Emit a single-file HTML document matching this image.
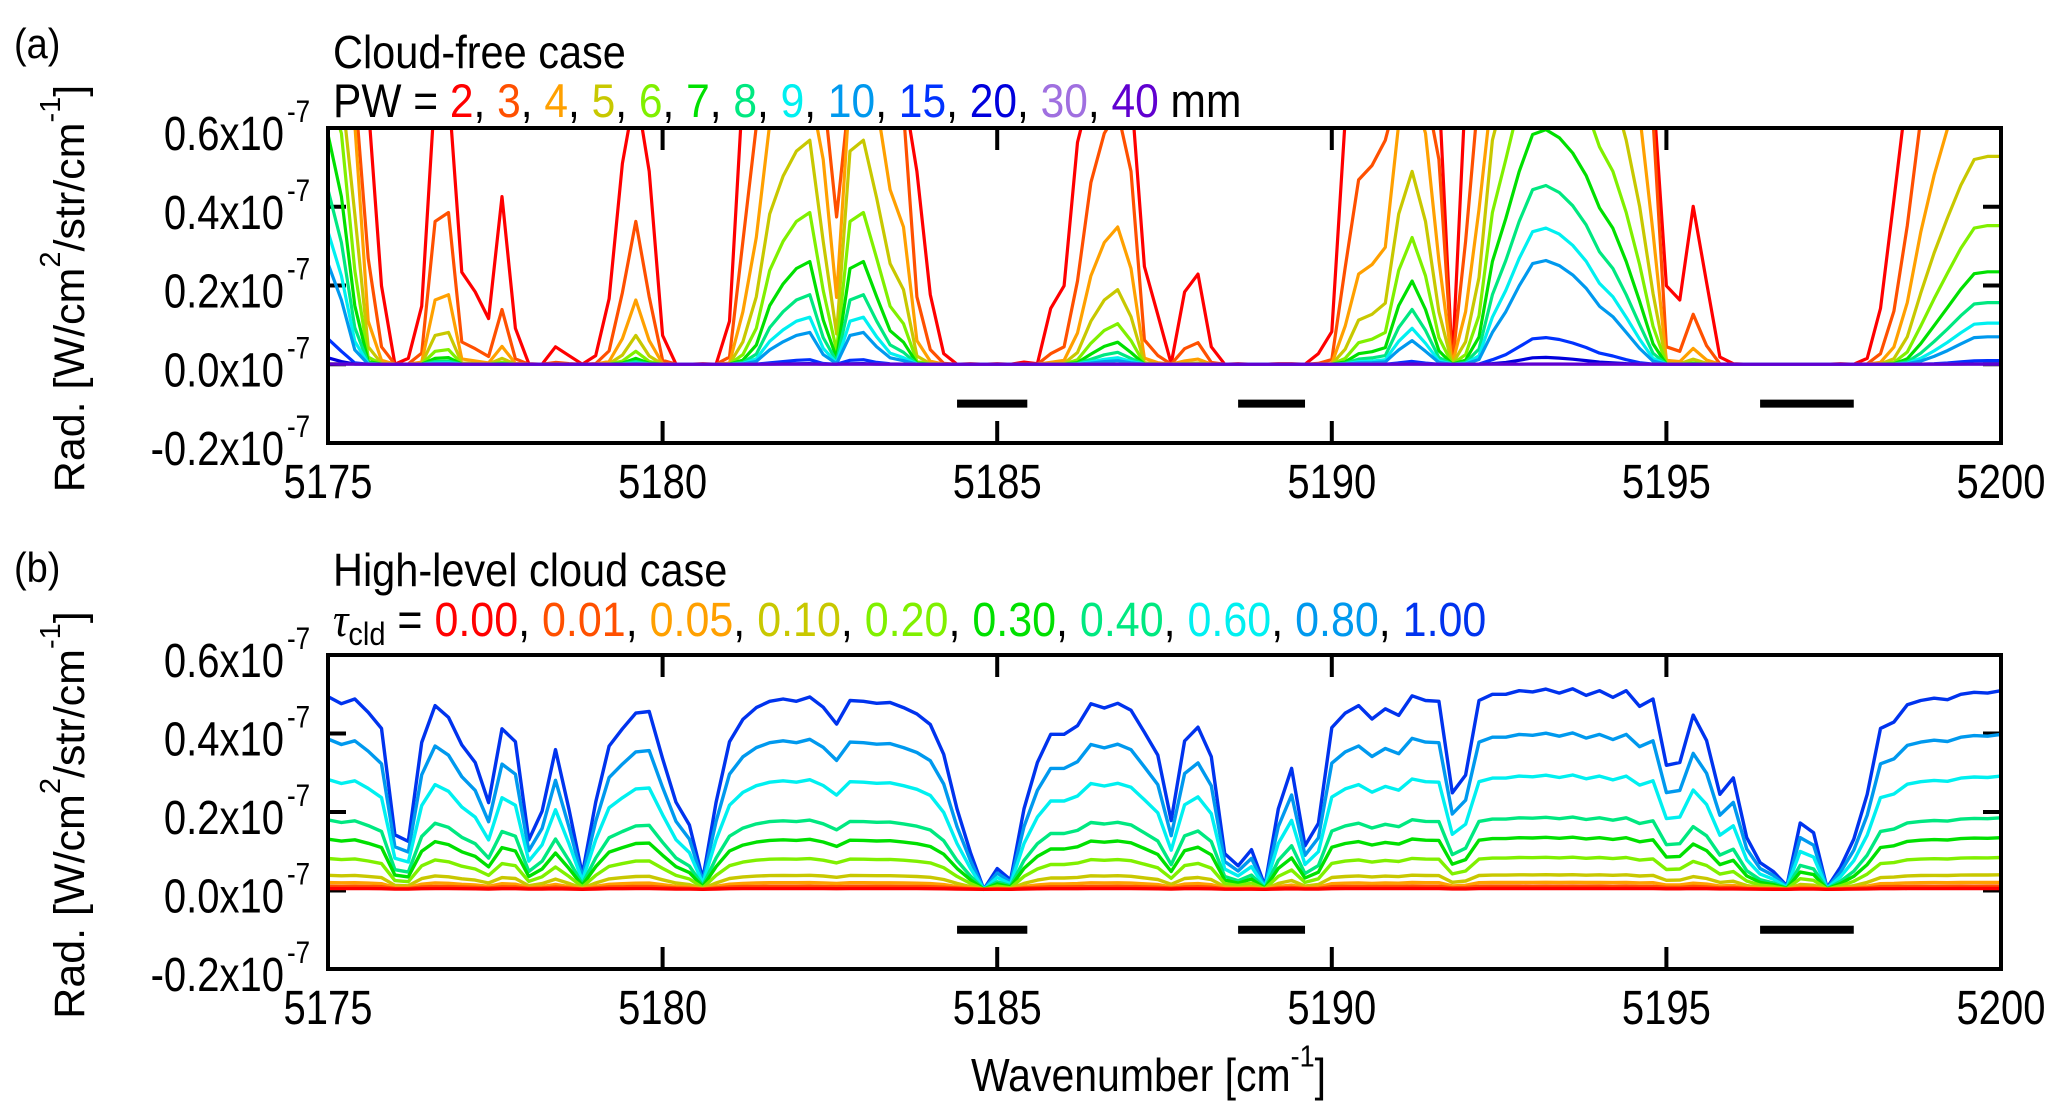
<!DOCTYPE html>
<html><head><meta charset="utf-8">
<style>
html,body{margin:0;padding:0;background:#fff;}
svg{display:block;font-family:"Liberation Sans",Arial,sans-serif;}
</style></head>
<body>
<svg id="fig" width="2067" height="1120" viewBox="0 0 2067 1120" xmlns="http://www.w3.org/2000/svg">
<defs>
<clipPath id="clipA"><rect x="328" y="128" width="1673" height="315"/></clipPath>
<clipPath id="clipB"><rect x="328" y="655" width="1673" height="314"/></clipPath>
</defs>
<rect width="2067" height="1120" fill="#fff"/>
<text x="14" y="58" font-size="38" transform="translate(0,-6) scale(1,1.1)">(a)</text>
<text font-size="41.5" transform="translate(333,68) scale(1,1.12)">Cloud-free case</text>
<text font-size="42.5" transform="translate(333,117) scale(1,1.12)">PW = <tspan fill="#ff0000">2</tspan>, <tspan fill="#ff5000">3</tspan>, <tspan fill="#ffa000">4</tspan>, <tspan fill="#c8c800">5</tspan>, <tspan fill="#80f000">6</tspan>, <tspan fill="#00e000">7</tspan>, <tspan fill="#00e880">8</tspan>, <tspan fill="#00f0f0">9</tspan>, <tspan fill="#0099ee">10</tspan>, <tspan fill="#0033ff">15</tspan>, <tspan fill="#0000dd">20</tspan>, <tspan fill="#a070e0">30</tspan>, <tspan fill="#6000d0">40</tspan> mm</text>
<text font-size="38" transform="translate(14,582) scale(1,1.1)">(b)</text>
<text font-size="41.5" transform="translate(333,586) scale(1,1.12)">High-level cloud case</text>
<text font-size="43" transform="translate(333,636) scale(1,1.12)"><tspan font-family="Liberation Serif" font-style="italic">τ</tspan><tspan font-size="29" dy="8">cld</tspan><tspan dy="-8"> = </tspan><tspan fill="#ff0000">0.00</tspan>, <tspan fill="#ff5000">0.01</tspan>, <tspan fill="#ffa000">0.05</tspan>, <tspan fill="#c8c800">0.10</tspan>, <tspan fill="#80f000">0.20</tspan>, <tspan fill="#00e000">0.30</tspan>, <tspan fill="#00e880">0.40</tspan>, <tspan fill="#00f0f0">0.60</tspan>, <tspan fill="#0099ee">0.80</tspan>, <tspan fill="#0033ee">1.00</tspan></text>
<text font-size="41" transform="translate(971,1091) scale(1,1.12)">Wavenumber [cm<tspan font-size="27" dy="-22">-1</tspan><tspan dy="22">]</tspan></text>
<g id="plots"></g>
</svg>
<script>
// ---- data ----
const wnStart = 5175, wnStep = 0.2;
// Panel (a): absorption coefficient per mm PW at each 0.2 cm-1 sample
const absorptionA = [0.275,0.32,0.47,0.9,1.5,5,2.8,1.65,0.8,0.78,1.42,1.54,1.77,1.12,1.89,4,5,2.25,2.6,5,2.6,1.59,1.03,0.8,1.05,2.0,5,5,4,5,1.8,0.85,0.63,0.47,0.425,0.40,0.39,0.51,0.79,0.40,0.39,0.45,0.55,0.61,1.05,1.56,2.5,5,4,5,4,5,3.3,4,1.67,1.5,0.98,0.72,0.64,0.61,0.70,1.39,1.73,4,1.54,1.43,2.25,5,4,5,5,4,4,5,2.5,1.94,0.93,0.715,0.69,0.65,0.47,0.42,0.48,0.68,5,0.85,0.58,0.39,0.34,0.30,0.275,0.272,0.277,0.287,0.303,0.33,0.35,0.39,0.46,0.62,1.5,1.6,1.15,1.48,2.7,4,5,5,5,5,5,5,5,4,5,2.8,1.67,1.13,0.81,0.62,0.53,0.475,0.435,0.408,0.405,0.405];
const solarLevelA = 4.0;
const pwValues = [2,3,4,5,6,7,8,9,10,15,20,30,40];
const pwColors = ["#ff0000","#ff5000","#ffa000","#c8c800","#80f000","#00e000","#00e880","#00f0f0","#0099ee","#0033ff","#0000dd","#a070e0","#6000d0"];
// Panel (b): radiance for tau=1.00 (x1e-7) and relative levels of each tau
const radianceB = [0.491,0.473,0.485,0.451,0.410,0.139,0.122,0.374,0.468,0.438,0.368,0.323,0.221,0.409,0.376,0.126,0.199,0.356,0.205,0.038,0.222,0.365,0.409,0.449,0.453,0.333,0.222,0.164,0.026,0.222,0.376,0.433,0.463,0.479,0.485,0.479,0.490,0.464,0.421,0.481,0.479,0.474,0.476,0.463,0.447,0.420,0.344,0.205,0.094,0.0,0.053,0.024,0.205,0.323,0.395,0.395,0.417,0.473,0.462,0.474,0.456,0.400,0.342,0.175,0.378,0.413,0.338,0.091,0.060,0.101,0.009,0.205,0.308,0.111,0.168,0.412,0.449,0.468,0.434,0.460,0.443,0.493,0.481,0.479,0.246,0.291,0.481,0.497,0.497,0.506,0.503,0.510,0.500,0.511,0.494,0.506,0.489,0.506,0.466,0.485,0.316,0.323,0.444,0.379,0.242,0.284,0.132,0.068,0.045,0.009,0.169,0.144,0.004,0.056,0.128,0.242,0.410,0.426,0.470,0.481,0.487,0.483,0.497,0.502,0.500,0.506];
const tauLabels = ["0.00","0.01","0.05","0.10","0.20","0.30","0.40","0.60","0.80","1.00"];
const tauLevels = [0.004,0.016,0.035,0.073,0.16,0.26,0.36,0.57,0.78,1.0];
const tauColors = ["#ff0000","#ff5000","#ffa000","#c8c800","#80f000","#00e000","#00e880","#00f0f0","#0099ee","#0033ee"];
// Marker bars (spectral windows) at y = -0.1
const barStart = [5184.4, 5188.6, 5196.4];
const barEnd = [5185.45, 5189.6, 5197.8];
const barLevel = -0.1;
const xTicks = [5175,5180,5185,5190,5195,5200];
const yTicks = [-0.2,0.0,0.2,0.4,0.6];

// ---- axes ----
const NS = "http://www.w3.org/2000/svg";
const X0 = 328, X1 = 2001, XMIN = 5175, XMAX = 5200, YMIN = -0.2, YMAX = 0.6;
function xs(v){ return X0 + (v - XMIN) / (XMAX - XMIN) * (X1 - X0); }
function makeY(top, bottom){ return v => bottom - (v - YMIN) / (YMAX - YMIN) * (bottom - top); }
function el(tag, attrs, parent){
  const e = document.createElementNS(NS, tag);
  for (const k in attrs) e.setAttribute(k, attrs[k]);
  parent.appendChild(e); return e;
}
const root = document.getElementById("plots");

function drawAxes(g, top, bottom, ys, tag){
  xTicks.forEach((t, i) => {
    const x = xs(t);
    if (i > 0 && i < xTicks.length - 1) {
      const t1 = el("line", {x1:x, x2:x, y1:top, y2:top+22, stroke:"#000","stroke-width":4}, g);
      
      
      const t2 = el("line", {x1:x, x2:x, y1:bottom, y2:bottom-22, stroke:"#000","stroke-width":4}, g);
      
      
    }
    const lb = el("text", {"font-size":40, "text-anchor":"middle", transform:"translate(" + x + "," + (bottom + 55) + ") scale(1,1.2)"}, g);
    lb.textContent = String(t);
    
    
  });
  yTicks.forEach(t => {
    const y = ys(t);
    if (t > YMIN && t < YMAX) {
      const a = el("line", {x1:X0, x2:X0+18, y1:y, y2:y, stroke:"#000","stroke-width":4}, g);
      
      
      const b = el("line", {x1:X1, x2:X1-18, y1:y, y2:y, stroke:"#000","stroke-width":4}, g);
      
      
    }
    const lb = el("text", {"font-size":40, "text-anchor":"end", transform:"translate(284," + (y + 22) + ") scale(1,1.2)"}, g);
    lb.textContent = t.toFixed(1) + "x10";
    
    
    const ex = el("text", {"font-size":26, transform:"translate(287," + (y - 6) + ") scale(1,1.2)"}, g);
    ex.textContent = "-7";
    
    
  });
  const cy = (top + bottom) / 2 + 3;
  const yt = el("text", {x:0, y:0, "font-size":43, "text-anchor":"middle", transform:"translate(84," + cy + ") rotate(-90)"}, g);
  
  
  yt.innerHTML = 'Rad. [W/cm<tspan font-size="29" dy="-24">2</tspan><tspan dy="24">/str/cm</tspan><tspan font-size="29" dy="-24">-1</tspan><tspan dy="24">]</tspan>';
  barStart.forEach((s, i) => {
    const r = el("line", {x1:xs(s), x2:xs(barEnd[i]), y1:ys(barLevel), y2:ys(barLevel), stroke:"#000","stroke-width":8}, g);
    
    
  });
}

function drawFrame(g, top, bottom, tag){
  const f = el("rect", {x:X0, y:top, width:X1-X0, height:bottom-top, fill:"none", stroke:"#000","stroke-width":4}, g);
  
  
}

// ---- Panel a ----
const gA = el("g", {}, root);


const yA = makeY(128, 443);
drawAxes(gA, 128, 443, yA, "panel-a");
const linesA = el("g", {"clip-path":"url(#clipA)"}, gA);


pwValues.forEach((pw, si) => {
  const pts = absorptionA.map((k, i) => {
    const v = solarLevelA * Math.exp(-k * pw);
    return xs(wnStart + i * wnStep).toFixed(1) + "," + yA(Math.min(v, 0.7)).toFixed(1);
  }).join(" ");
  const p = el("polyline", {points:pts, fill:"none", stroke:pwColors[si], "stroke-width":3.2, "stroke-linejoin":"round"}, linesA);
  
  
});
drawFrame(gA, 128, 443, "panel-a");

// ---- Panel b ----
const gB = el("g", {}, root);


const yB = makeY(655, 969);
drawAxes(gB, 655, 969, yB, "panel-b");
const linesB = el("g", {"clip-path":"url(#clipB)"}, gB);


for (let si = tauLevels.length - 1; si >= 0; si--) {
  const pts = radianceB.map((r, i) => {
    const v = r * tauLevels[si] + 0.003;
    return xs(wnStart + i * wnStep).toFixed(1) + "," + yB(v).toFixed(1);
  }).join(" ");
  const p = el("polyline", {points:pts, fill:"none", stroke:tauColors[si], "stroke-width":3.4, "stroke-linejoin":"round"}, linesB);
  
  
}
drawFrame(gB, 655, 969, "panel-b");
</script>
</body></html>
